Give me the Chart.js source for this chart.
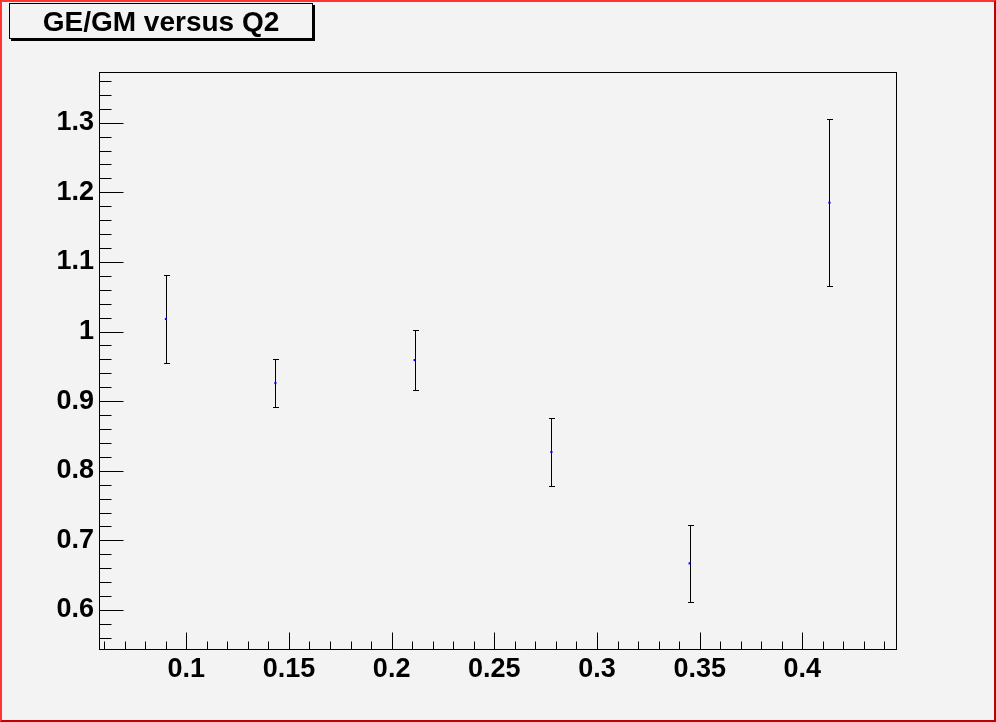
<!DOCTYPE html>
<html>
<head>
<meta charset="utf-8">
<title>GE/GM versus Q2</title>
<script src="https://cdn.jsdelivr.net/npm/chart.js@4.4.1/dist/chart.umd.min.js"></script>
<style>
    html, body { margin: 0; padding: 0; background: #f3f3f3; }
    #wrap { position: relative; width: 996px; height: 722px; overflow: hidden; }
    #border {
        position: absolute; left: 0; top: 0; width: 996px; height: 722px; box-sizing: border-box;
        border-left: 2px solid #ff3333; border-top: 2px solid #ff3333;
        border-right: 2px solid #c00000; border-bottom: 2px solid #c00000;
        pointer-events: none;
    }
    #title {
        position: absolute; left: 9px; top: 3px; width: 302px; height: 34px;
        border: 1px solid #000; box-shadow: 2px 2px 0 #000; background: #f3f3f3;
        font: bold 28px "Liberation Sans", Arial, sans-serif; color: #000;
        text-align: center; line-height: 36px;
    }
</style>
</head>
<body>
<div id="wrap">
    <canvas id="ratioChart" width="996" height="722"></canvas>
    <div id="title">GE/GM versus Q2</div>
    <div id="border"></div>
</div>
<script>
// values
const q2 = [0.0901, 0.1434, 0.2112, 0.2778, 0.3451, 0.4132]
const ratio = [1.018, 0.926, 0.959, 0.827, 0.667, 1.185]
const ratioErr = [0.0625, 0.035, 0.0425, 0.0495, 0.055, 0.12]

const xTicks = [0.1, 0.15, 0.2, 0.25, 0.3, 0.35, 0.4]
const yTicks = [0.6, 0.7, 0.8, 0.9, 1, 1.1, 1.2, 1.3]
const xRange = [0.0575, 0.4456]
const yRange = [0.544, 1.3728]

const tickFont = { family: '"Liberation Sans", Arial, sans-serif', size: 27, weight: 'bold' }
const fmt = v => String(parseFloat(Number(v).toFixed(3)))

// vertical error bars with small caps
const errorBars = {
    id: 'errorBars',
    beforeDatasetsDraw(chart) {
        let c = chart.ctx
        let xs = chart.scales.x
        let ys = chart.scales.y
        c.save()
        c.strokeStyle = '#000'
        c.lineWidth = 1
        q2.forEach((x, i) => {
            let px = Math.round(xs.getPixelForValue(x)) + 0.5
            let top = Math.round(ys.getPixelForValue(ratio[i] + ratioErr[i])) + 0.5
            let bot = Math.round(ys.getPixelForValue(ratio[i] - ratioErr[i])) + 0.5
            c.beginPath()
            c.moveTo(px, top); c.lineTo(px, bot)
            c.moveTo(px - 2.5, top); c.lineTo(px + 3.5, top)
            c.moveTo(px - 2.5, bot); c.lineTo(px + 3.5, bot)
            c.stroke()
        })
        c.restore()
    }
}

// ROOT style frame with inward ticks on left and bottom
const rootFrame = {
    id: 'rootFrame',
    afterDraw(chart) {
        let c = chart.ctx
        let a = chart.chartArea
        let xs = chart.scales.x
        let ys = chart.scales.y
        let l = Math.round(a.left) + 0.5
        let r = Math.round(a.right) + 0.5
        let t = Math.round(a.top) + 0.5
        let b = Math.round(a.bottom) + 0.5
        c.save()
        c.strokeStyle = '#000'
        c.lineWidth = 1
        c.strokeRect(l, t, r - l, b - t)
        c.beginPath()
        // x ticks, minor every 0.01
        for (let k = 6; k <= 44; k++) {
            let v = k / 100
            let px = Math.round(xs.getPixelForValue(v)) + 0.5
            let len = (k % 5 === 0) ? 17 : 8
            c.moveTo(px, b); c.lineTo(px, b - len)
        }
        // y ticks, minor every 0.02
        for (let k = 28; k <= 68; k++) {
            let v = k / 50
            if (v < yRange[0] || v > yRange[1]) continue
            let py = Math.round(ys.getPixelForValue(v)) + 0.5
            let len = (k % 5 === 0) ? 24 : 12
            c.moveTo(l, py); c.lineTo(l + len, py)
        }
        c.stroke()
        c.restore()
    }
}

let ctx = document.getElementById('ratioChart')
let chart = new Chart(ctx, {
    type: 'scatter',
    data: {
        datasets: [{
            label: 'GE/GM',
            data: q2.map((x, i) => ({ x: x, y: ratio[i] })),
            pointStyle: 'rect',
            pointRadius: 1.5,
            pointBackgroundColor: '#0000ff',
            pointBorderWidth: 0
        }]
    },
    options: {
        responsive: false,
        animation: false,
        events: [],
        layout: { padding: { top: 72, right: 100, left: 0, bottom: 0 } },
        plugins: {
            legend: { display: false },
            title: { display: false },
            tooltip: { enabled: false }
        },
        scales: {
            x: {
                type: 'linear',
                min: xRange[0],
                max: xRange[1],
                grid: { display: false, drawTicks: false },
                border: { display: false },
                afterBuildTicks: s => { s.ticks = xTicks.map(v => ({ value: v })) },
                afterFit: s => { s.height = 73 },
                ticks: {
                    font: tickFont, color: '#000', padding: 4,
                    maxRotation: 0, autoSkip: false, callback: fmt
                }
            },
            y: {
                type: 'linear',
                min: yRange[0],
                max: yRange[1],
                grid: { display: false, drawTicks: false },
                border: { display: false },
                afterBuildTicks: s => { s.ticks = yTicks.map(v => ({ value: v })) },
                afterFit: s => { s.width = 99 },
                ticks: {
                    font: tickFont, color: '#000', padding: 5,
                    autoSkip: false, callback: fmt
                }
            }
        }
    },
    plugins: [errorBars, rootFrame]
})
</script>
</body>
</html>
